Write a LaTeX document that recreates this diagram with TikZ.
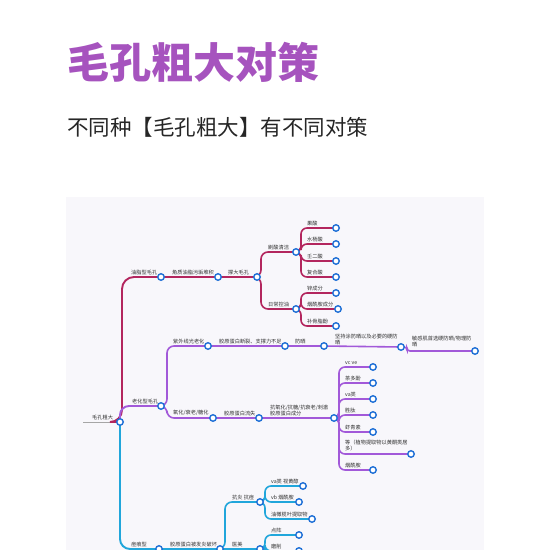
\documentclass[tikz,border=0pt]{standalone}
\usepackage{fontspec}
\newfontfamily\cjk{Noto Sans CJK SC}
\usetikzlibrary{calc}
\definecolor{panelc}{HTML}{F8F7FB}
\definecolor{titlec}{HTML}{A653BE}
\definecolor{redc}{HTML}{B3265E}
\definecolor{purc}{HTML}{A259D9}
\definecolor{cyac}{HTML}{21A6DB}
\definecolor{dotc}{HTML}{1E6FD6}
\definecolor{lblc}{HTML}{333333}
\pgfdeclarelayer{bg}
\pgfdeclarelayer{edges}
\pgfsetlayers{bg,edges,main}
\tikzset{
  dot/.style={circle, draw=dotc, fill=white, line width=1.4pt, minimum size=6.5pt, inner sep=0pt},
  lbl/.style={anchor=south west, font=\cjk\fontsize{5.2}{6}\selectfont, text=lblc, inner sep=0pt, align=left},
  er/.style={draw=redc, line width=1.6pt, rounded corners=7pt},
  ep/.style={draw=purc, line width=1.6pt, rounded corners=7pt},
  ec/.style={draw=cyac, line width=1.6pt, rounded corners=7pt},
}
\begin{document}
\begin{tikzpicture}[x=1pt,y=-1pt]
\useasboundingbox (0,0) rectangle (550,550);
\begin{pgfonlayer}{bg}
\fill[panelc] (66,197) rectangle (484,550);
\end{pgfonlayer}
% titles
\node[anchor=west, inner sep=0pt, text=titlec, font=\cjk\bfseries\fontsize{42}{42}\selectfont] (title) at (67,62) {毛孔粗大对策};
\node[anchor=west, inner sep=0pt, text=black!85, font=\cjk\fontsize{21.5}{22}\selectfont] (subtitle) at (67,127) {不同种【毛孔粗大】有不同对策};

% root
\coordinate (rootstart) at (83,422);
\node[dot] (root) at (120,422) {};
\node[lbl] (rootl) at (92,420) {毛孔粗大};

% ---------- branch 1 ----------
\node[dot] (b1) at (161,277) {};
\node[dot] (b1a) at (218,277) {};
\node[dot] (b1b) at (257,277) {};
\node[dot] (c1) at (296,252) {};
\node[dot] (c2) at (296,309) {};
\node[dot] (c1a) at (336,228) {};
\node[dot] (c1b) at (336,244) {};
\node[dot] (c1c) at (336,261) {};
\node[dot] (c1d) at (336,277) {};
\node[dot] (c2a) at (336,293) {};
\node[dot] (c2b) at (338,309) {};
\node[dot] (c2c) at (336,326) {};
\node[lbl] (lb1) at (131,275) {油脂型毛孔};
\node[lbl] (lb1a) at (172,275) {角质油脂污垢堆积};
\node[lbl] (lb1b) at (228,275) {撑大毛孔};
\node[lbl] (lc1) at (268,250) {刷酸清洁};
\node[lbl] (lc2) at (268,307) {日常控油};
\node[lbl] (lc1a) at (307,226) {果酸};
\node[lbl] (lc1b) at (307,242) {水杨酸};
\node[lbl] (lc1c) at (307,259) {壬二酸};
\node[lbl] (lc1d) at (307,275) {复合酸};
\node[lbl] (lc2a) at (307,291) {锌成分};
\node[lbl] (lc2b) at (307,307) {烟酰胺成分};
\node[lbl] (lc2c) at (307,324) {补骨脂酚};

% ---------- branch 2 ----------
\node[dot] (b2) at (161,406) {};
\node[dot] (uv) at (208,346) {};
\node[dot] (uv2) at (285,346) {};
\node[dot] (uv3) at (324,346) {};
\node[dot] (uv4) at (401,347) {};
\node[dot] (uv5) at (475,351) {};
\node[dot] (ox) at (213,418) {};
\node[dot] (ox2) at (259,418) {};
\node[dot] (ox3) at (334,418) {};
\node[dot] (o1) at (373,367) {};
\node[dot] (o2) at (373,383) {};
\node[dot] (o3) at (373,399) {};
\node[dot] (o4) at (373,415) {};
\node[dot] (o5) at (373,432) {};
\node[dot] (o6) at (411,454) {};
\node[dot] (o7) at (373,470) {};
\node[lbl] (lb2) at (132,404) {老化型毛孔};
\node[lbl] (luv) at (173,344) {紫外线光老化};
\node[lbl] (luv2) at (219,344) {胶原蛋白断裂、支撑力不足};
\node[lbl] (luv3) at (295,344) {防晒};
\node[lbl] (luv4) at (335,345) {坚持涂防晒以及必要的硬防\\晒};
\node[lbl] (luv5) at (412,347) {敏感肌首选硬防晒/物理防\\晒};
\node[lbl] (lox) at (173,416) {氧化/衰老/糖化};
\node[lbl] (lox2) at (224,416) {胶原蛋白流失};
\node[lbl] (lox3) at (270,416) {抗氧化/抗糖/抗衰老/刺激\\胶原蛋白成分};
\node[lbl] (lo1) at (345,365) {vc ve};
\node[lbl] (lo2) at (345,381) {茶多酚};
\node[lbl] (lo3) at (345,397) {va类};
\node[lbl] (lo4) at (345,413) {胜肽};
\node[lbl] (lo5) at (345,430) {虾青素};
\node[lbl] (lo6) at (345,451) {等（植物提取物以黄酮类居\\多）};
\node[lbl] (lo7) at (345,468) {烟酰胺};

% ---------- branch 3 ----------
\node[dot] (b3) at (159,549) {};
\node[dot] (b3a) at (220,549) {};
\node[dot] (ai) at (260,502) {};
\node[dot] (med) at (260,549) {};
\node[dot] (a1) at (303,486) {};
\node[dot] (a2) at (299,502) {};
\node[dot] (a3) at (312,519) {};
\node[dot] (m1) at (299,535) {};
\node[dot] (m2) at (299,551) {};
\node[lbl] (lb3) at (131,547) {痘痕型};
\node[lbl] (lb3a) at (170,547) {胶原蛋白被发炎破坏};
\node[lbl] (lai) at (232,500) {抗炎 抗痘};
\node[lbl] (lmed) at (232,547) {医美};
\node[lbl] (la1) at (271,484) {va类 视黄醇};
\node[lbl] (la2) at (271,500) {vb 烟酰胺};
\node[lbl] (la3) at (271,517) {油橄榄叶提取物};
\node[lbl] (lm1) at (271,533) {点阵};
\node[lbl] (lm2) at (271,549) {磨削};

\begin{pgfonlayer}{edges}
\draw[gray!70, line width=0.6pt] (rootstart) -- (root.center);
% branch 1
\draw[er, rounded corners=12pt, line width=1.9pt] (root.center) -- ++(2,0) |- (b1.center);
\draw[er, line width=1.9pt] (b1.center) -- (b1a.center) -- (b1b.center);
\draw[er] (b1b.center) -- ++(4,0) |- (c1.center);
\draw[er] (b1b.center) -- ++(4,0) |- (c2.center);
\foreach \c in {c1a,c1b,c1c,c1d} \draw[er, rounded corners=6pt] (c1.center) -- ++(5,0) |- (\c.center);
\foreach \c in {c2a,c2b,c2c} \draw[er, rounded corners=6pt] (c2.center) -- ++(5,0) |- (\c.center);
% branch 2
\draw[ep, rounded corners=9pt, line width=1.9pt] (root.center) |- (b2.center);
\draw[ep] (b2.center) -- ++(6,0) |- (uv.center);
\draw[ep] (b2.center) -- ++(6,0) |- (ox.center);
\draw[ep] (uv.center) -- (uv2.center) -- (uv3.center) -- (uv4.center);
\draw[ep, rounded corners=3pt] (uv4.center) -- ++(6,0) |- (uv5.center);
\draw[ep] (ox.center) -- (ox2.center) -- (ox3.center);
\foreach \c in {o1,o2,o3,o4,o5,o6,o7} \draw[ep, rounded corners=6pt] (ox3.center) -- ++(5,0) |- (\c.center);
% branch 3
\draw[ec, rounded corners=10pt, line width=1.9pt] (root.center) |- (b3.center);
\draw[ec] (b3.center) -- (b3a.center);
\draw[ec] (b3a.center) -- ++(5,0) |- (ai.center);
\draw[ec] (b3a.center) -- (med.center);
\foreach \c in {a1,a2,a3} \draw[ec, rounded corners=6pt] (ai.center) -- ++(5,0) |- (\c.center);
\foreach \c in {m1,m2} \draw[ec, rounded corners=6pt] (med.center) -- ++(5,0) |- (\c.center);
\end{pgfonlayer}
\end{tikzpicture}
\end{document}
